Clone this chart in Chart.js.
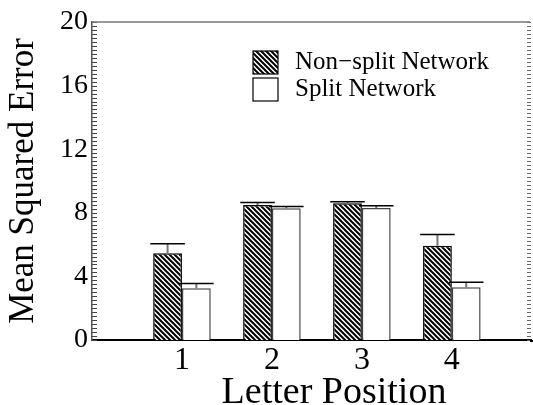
<!DOCTYPE html>
<html>
<head>
<meta charset="utf-8">
<script src="https://cdn.jsdelivr.net/npm/chart.js@4.4.1/dist/chart.umd.min.js"></script>
<style>
  html, body { margin: 0; background: #fff; }
  #wrap { width: 533px; height: 405px; }
</style>
</head>
<body>
<div id="wrap"><canvas id="chart"></canvas></div>
<script>
// ---- data ----
var positions   = [1, 2, 3, 4];
var nonSplit    = [5.45, 8.49, 8.6, 5.93];
var nonSplitErr = [0.6, 0.15, 0.1, 0.71];
var split       = [3.25, 8.28, 8.3, 3.31];
var splitErr    = [0.31, 0.12, 0.15, 0.32];
var yLabelled   = [0, 4, 8, 12, 16, 20];
var seriesNames = ['Non\u2212split Network', 'Split Network'];
var xTitle = 'Letter Position';
var yTitle = 'Mean Squared Error';

var SERIF = 'Liberation Serif';
var canvas = document.getElementById('chart');
var ctx0 = canvas.getContext('2d');

function makeHatch() {
  var p = 5, c = document.createElement('canvas');
  c.width = p; c.height = p;
  var g = c.getContext('2d');
  g.fillStyle = '#fff';
  g.fillRect(0, 0, p, p);
  g.strokeStyle = '#000';
  g.lineWidth = 2;
  g.beginPath();
  g.moveTo(-1, -1); g.lineTo(p + 1, p + 1);
  g.moveTo(-1, p - 1); g.lineTo(1, p + 1);
  g.moveTo(p - 1, -1); g.lineTo(p + 1, 1);
  g.stroke();
  return ctx0.createPattern(c, 'repeat');
}
var hatch = makeHatch();

function toPoints(vals) {
  return positions.map(function(x, i) { return { x: x, y: vals[i] }; });
}

var extras = {
  id: 'extras',
  afterDatasetsDraw: function(chart) {
    var ctx = chart.ctx, ys = chart.scales.y;
    chart.data.datasets.forEach(function(ds, di) {
      chart.getDatasetMeta(di).data.forEach(function(bar, i) {
        var top = ys.getPixelForValue(ds.data[i].y + ds.err[i]);
        var half = bar.width * 0.6;
        ctx.save();
        ctx.strokeStyle = '#777';
        ctx.lineWidth = 2;
        ctx.beginPath(); ctx.moveTo(bar.x, bar.y); ctx.lineTo(bar.x, top); ctx.stroke();
        ctx.strokeStyle = '#000';
        ctx.lineWidth = 1.5;
        ctx.beginPath(); ctx.moveTo(bar.x - half, top); ctx.lineTo(bar.x + half, top); ctx.stroke();
        ctx.restore();
      });
    });
  },
  afterDraw: function(chart) {
    var ctx = chart.ctx, a = chart.chartArea, ys = chart.scales.y;
    ctx.save();
    // inward ticks, left and right
    ctx.lineWidth = 1;
    ys.ticks.forEach(function(t, i) {
      var y = Math.round(ys.getPixelForTick(i)) + 0.5;
      ctx.strokeStyle = '#444';
      ctx.beginPath(); ctx.moveTo(a.left, y); ctx.lineTo(a.left + 5, y); ctx.stroke();
      ctx.strokeStyle = '#666';
      ctx.beginPath(); ctx.moveTo(a.right - 4, y); ctx.lineTo(a.right, y); ctx.stroke();
    });
    // top frame line
    ctx.strokeStyle = '#777';
    ctx.lineWidth = 1.5;
    ctx.beginPath(); ctx.moveTo(a.left, a.top); ctx.lineTo(a.right - 1, a.top); ctx.stroke();
    // bottom axis runs to the edge
    ctx.strokeStyle = '#000';
    ctx.lineWidth = 2;
    ctx.beginPath(); ctx.moveTo(a.right - 1, a.bottom + 1); ctx.lineTo(chart.width, a.bottom + 1); ctx.stroke();

    // legend
    ctx.font = '25px "' + SERIF + '"';
    ctx.textBaseline = 'middle';
    ctx.textAlign = 'left';
    chart.data.datasets.forEach(function(ds, i) {
      var bx = 253, by = 51 + i * 27;
      ctx.fillStyle = ds.backgroundColor;
      ctx.fillRect(bx, by, 25, 23);
      ctx.strokeStyle = '#000';
      ctx.lineWidth = 1.2;
      ctx.strokeRect(bx, by, 25, 23);
      ctx.fillStyle = '#000';
      ctx.fillText(ds.label, 295, by + 11.5);
    });

    // x axis title
    ctx.font = '38px "' + SERIF + '"';
    ctx.textAlign = 'center';
    ctx.textBaseline = 'alphabetic';
    ctx.fillText(xTitle, 334, 403);
    ctx.restore();
  }
};

new Chart(canvas, {
  type: 'bar',
  data: {
    datasets: [{
      label: seriesNames[0],
      data: toPoints(nonSplit),
      err: nonSplitErr,
      backgroundColor: hatch,
      borderColor: '#000',
      borderWidth: 1.5
    }, {
      label: seriesNames[1],
      data: toPoints(split),
      err: splitErr,
      backgroundColor: '#fff',
      borderColor: '#444',
      borderWidth: 1.5
    }]
  },
  plugins: [extras],
  options: {
    responsive: true,
    maintainAspectRatio: false,
    animation: false,
    categoryPercentage: 0.64,
    barPercentage: 1,
    layout: { padding: { top: 22, right: 2, left: 0, bottom: 0 } },
    plugins: { legend: { display: false }, tooltip: { enabled: false } },
    scales: {
      x: {
        type: 'linear',
        offset: false,
        min: 0,
        max: 4.88,
        grid: { display: false, drawTicks: false },
        border: { color: '#000', width: 2 },
        ticks: {
          stepSize: 1,
          includeBounds: false,
          padding: 1,
          color: '#000',
          font: { family: SERIF, size: 32 },
          callback: function(v) { return positions.indexOf(v) >= 0 ? String(v) : ''; }
        },
        afterFit: function(s) { s.height = 65; }
      },
      y: {
        min: 0,
        max: 20,
        grid: { display: false, drawTicks: false },
        border: { color: '#555', width: 1.5 },
        ticks: {
          stepSize: 0.25,
          autoSkip: false,
          padding: 4,
          color: '#000',
          font: { family: SERIF, size: 28 },
          callback: function(v) { return yLabelled.indexOf(v) >= 0 ? String(v) : ''; }
        },
        title: {
          display: true,
          text: yTitle,
          color: '#000',
          font: { family: SERIF, size: 35, lineHeight: 1 },
          padding: { top: 6.5, bottom: 0 }
        },
        afterFit: function(s) { s.width = 92; }
      }
    }
  }
});
</script>
</body>
</html>
